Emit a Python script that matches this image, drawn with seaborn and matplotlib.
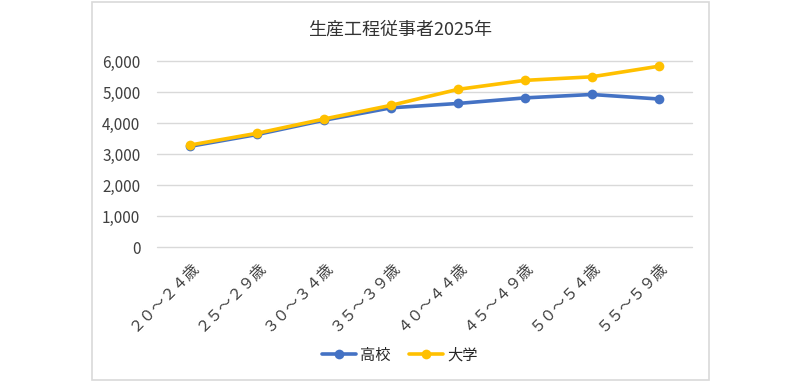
import matplotlib
matplotlib.use("Agg")
import matplotlib.pyplot as plt
import matplotlib.transforms as mtransforms
import seaborn as sns
import pandas as pd
from matplotlib.patches import Rectangle

categories = ["２０～２４歳", "２５～２９歳", "３０～３４歳", "３５～３９歳",
              "４０～４４歳", "４５～４９歳", "５０～５４歳", "５５～５９歳"]
koukou = [3250, 3630, 4090, 4490, 4630, 4810, 4920, 4775]
daigaku = [3290, 3670, 4130, 4570, 5085, 5375, 5490, 5830]
series_names = ["高校", "大学"]
title = "生産工程従事者2025年"
yticks = [0, 1000, 2000, 3000, 4000, 5000, 6000]

sns.set_theme(style="white")
plt.rcParams["font.family"] = ["Noto Sans CJK JP", "DejaVu Sans"]

df = pd.DataFrame({
    "cat": categories * 2,
    "x": list(range(len(categories))) * 2,
    "value": koukou + daigaku,
    "series": [series_names[0]] * len(categories) + [series_names[1]] * len(categories),
})

fig = plt.figure(figsize=(8, 3.81), dpi=100)
ax = fig.add_axes([157/800, 1 - 247/381, (692-157)/800, (247-61)/381])

fig.patches.append(Rectangle((92/800, 1/381), (709-92)/800, (380-2)/381,
                             transform=fig.transFigure, fill=False,
                             edgecolor="#D9D9D9", linewidth=1.2))

palette = {"高校": "#4472C4", "大学": "#FFC000"}
sns.lineplot(data=df, x="x", y="value", hue="series", palette=palette,
             marker="o", markersize=7, markeredgewidth=0, linewidth=2.6,
             ax=ax, legend=True, zorder=3)

ax.set_xlim(-0.5, len(categories) - 0.5)
ax.set_ylim(0, 6000)
ax.set_yticks(yticks)
ax.set_yticklabels([f"{v:,}" for v in yticks], fontsize=11, color="#404040")
ax.set_xticks(range(len(categories)))
ax.set_xticklabels(categories, rotation=45, ha="right", rotation_mode="anchor",
                   fontsize=11, color="#404040")
shift = mtransforms.ScaledTranslation(-6/100, 0, fig.dpi_scale_trans)
for lbl in ax.get_xticklabels():
    lbl.set_transform(lbl.get_transform() + shift)
ax.tick_params(axis="both", length=0)
ax.tick_params(axis="y", pad=12)
ax.tick_params(axis="x", pad=8)
ax.grid(axis="y", color="#D9D9D9", linewidth=1)
ax.grid(axis="x", visible=False)
for gl in ax.get_ygridlines():
    gl.set_clip_on(False)
for s in ax.spines.values():
    s.set_visible(False)
ax.set_xlabel("")
ax.set_ylabel("")

fig.text(0.5, 1 - 30/381, title, ha="center", va="center", fontsize=13, color="#333333")

handles, labels = ax.get_legend_handles_labels()
ax.legend(handles, labels, loc="center", bbox_to_anchor=(0.5, 1 - 355/381),
          bbox_transform=fig.transFigure, ncol=2, frameon=False, fontsize=11,
          handlelength=2.2, handletextpad=0.3, columnspacing=1.2)

fig.savefig("out.png", dpi=100, facecolor="white")
